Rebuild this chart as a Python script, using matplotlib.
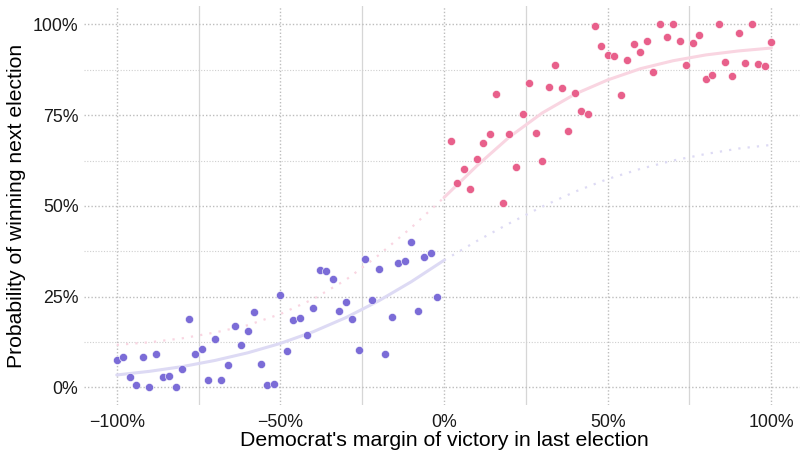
import matplotlib

matplotlib.use("Agg")
import matplotlib.pyplot as plt
import matplotlib.ticker as mticker

plt.rcParams["font.family"] = ["Liberation Sans", "DejaVu Sans"]

# Democrat's margin in last election (%), one point every 2 points of margin
dem_lost_margin = [
    -100, -98, -96, -94, -92, -90, -88, -86, -84, -82,
    -80, -78, -76, -74, -72, -70, -68, -66, -64, -62,
    -60, -58, -56, -54, -52, -50, -48, -46, -44, -42,
    -40, -38, -36, -34, -32, -30, -28, -26, -24, -22,
    -20, -18, -16, -14, -12, -10, -8, -6, -4, -2,
]
dem_lost_prob = [
    7.5, 8.4, 2.9, 0.7, 8.4, 0.0, 9.1, 2.9, 3.2, 0.0,
    5.0, 18.9, 9.1, 10.5, 1.9, 13.3, 1.9, 6.2, 16.8, 11.6,
    15.4, 20.7, 6.5, 0.7, 0.9, 25.4, 10.1, 18.5, 19.0, 14.3,
    21.9, 32.3, 32.1, 29.9, 21.1, 23.6, 18.8, 10.4, 35.3, 24.1,
    32.7, 9.1, 19.3, 34.3, 34.7, 40.0, 21.0, 35.8, 36.9, 24.8,
]

dem_won_margin = [
    2, 4, 6, 8, 10, 12, 14, 16, 18, 20,
    22, 24, 26, 28, 30, 32, 34, 36, 38, 40,
    42, 44, 46, 48, 50, 52, 54, 56, 58, 60,
    62, 64, 66, 68, 70, 72, 74, 76, 78, 80,
    82, 84, 86, 88, 90, 92, 94, 96, 98, 100,
]
dem_won_prob = [
    67.9, 56.2, 60.1, 54.6, 62.9, 67.4, 69.9, 80.8, 50.7, 69.8,
    60.7, 75.4, 84.0, 70.0, 62.5, 82.8, 88.9, 82.4, 70.7, 81.1,
    76.2, 75.3, 99.7, 94.0, 91.5, 91.3, 80.6, 90.2, 94.6, 92.5,
    95.3, 86.8, 100.0, 96.6, 100.0, 95.3, 88.7, 94.9, 97.1, 85.0,
    86.0, 100.0, 89.6, 85.7, 97.6, 89.4, 100.0, 89.1, 88.6, 95.1,
]

# Fitted curves, sampled every 10 points of margin
fit_lost_x = [-100, -90, -80, -70, -60, -50, -40, -30, -20, -10, 0]
fit_lost_y = [3.4, 4.4, 5.7, 7.4, 9.5, 12.1, 15.3, 19.2, 23.8, 29.1, 35.0]
fit_lost_ext_x = [0, 10, 20, 30, 40, 50, 60, 70, 80, 90, 100]
fit_lost_ext_y = [35.0, 40.3, 45.2, 49.8, 53.9, 57.4, 60.2, 62.5, 64.3, 65.8, 66.8]

fit_won_x = [0, 10, 20, 30, 40, 50, 60, 70, 80, 90, 100]
fit_won_y = [52.3, 61.0, 69.0, 75.6, 80.8, 84.7, 87.8, 90.0, 91.6, 92.7, 93.5]
fit_won_ext_x = [-100, -90, -80, -70, -60, -50, -40, -30, -20, -10, 0]
fit_won_ext_y = [11.7, 12.4, 13.5, 15.1, 17.1, 20.2, 24.3, 29.6, 36.4, 44.0, 52.3]

c_blue = "#7b6cd7"
c_pink = "#e8608b"
c_blue_fit = "#dddaf4"
c_pink_fit = "#f9d5e1"
c_text = "#1a1a1a"

fig = plt.figure(figsize=(8, 4.5), dpi=100)
ax = fig.add_axes([0.105, 0.099, 0.9, 0.887])

# fitted curves: solid over the fitted range, dotted where extrapolated
ax.plot(fit_lost_x, fit_lost_y, color=c_blue_fit, linewidth=2.2, zorder=2,
        solid_capstyle="round")
ax.plot(fit_lost_ext_x, fit_lost_ext_y, color=c_blue_fit, linewidth=1.6,
        linestyle=(0, (1, 3.2)), zorder=2)
ax.plot(fit_won_x, fit_won_y, color=c_pink_fit, linewidth=2.2, zorder=2,
        solid_capstyle="round")
ax.plot(fit_won_ext_x, fit_won_ext_y, color=c_pink_fit, linewidth=1.6,
        linestyle=(0, (1, 3.2)), zorder=2)

ax.scatter(dem_lost_margin, dem_lost_prob, s=34, color=c_blue,
           edgecolor="white", linewidth=0.4, zorder=3)
ax.scatter(dem_won_margin, dem_won_prob, s=34, color=c_pink,
           edgecolor="white", linewidth=0.4, zorder=3)

ax.set_xlim(-110, 110)
ax.set_ylim(-5, 105)

ax.xaxis.set_major_locator(mticker.MultipleLocator(50))
ax.xaxis.set_minor_locator(mticker.MultipleLocator(25))
ax.yaxis.set_major_locator(mticker.MultipleLocator(25))
ax.yaxis.set_minor_locator(mticker.MultipleLocator(12.5))
ax.xaxis.set_major_formatter(
    mticker.FuncFormatter(lambda v, _: f"{v:.0f}%".replace("-", "\u2212")))
ax.yaxis.set_major_formatter(mticker.FuncFormatter(lambda v, _: f"{v:.0f}%"))

ax.grid(which="major", axis="x", color="#bdbdbd", linestyle=(0, (1, 1.5)),
        linewidth=1.0, zorder=0)
ax.grid(which="minor", axis="x", color="#d6d6d6", linestyle="-",
        linewidth=0.9, zorder=0)
ax.grid(which="major", axis="y", color="#bdbdbd", linestyle=(0, (1, 1.5)),
        linewidth=1.0, zorder=0)
ax.grid(which="minor", axis="y", color="#cfcfcf", linestyle=(0, (1, 1.5)),
        linewidth=0.8, zorder=0)
ax.set_axisbelow(True)

for spine in ax.spines.values():
    spine.set_visible(False)
ax.tick_params(which="both", length=0, labelsize=12.8, colors=c_text)
ax.tick_params(axis="x", pad=6)
ax.tick_params(axis="y", pad=4)

ax.set_xlabel("Democrat's margin of victory in last election", fontsize=15.3,
              color="black", labelpad=0)
ax.set_ylabel("Probability of winning next election", fontsize=15.2,
              color="black", labelpad=5)

fig.savefig("out.png", dpi=100, facecolor="white")
